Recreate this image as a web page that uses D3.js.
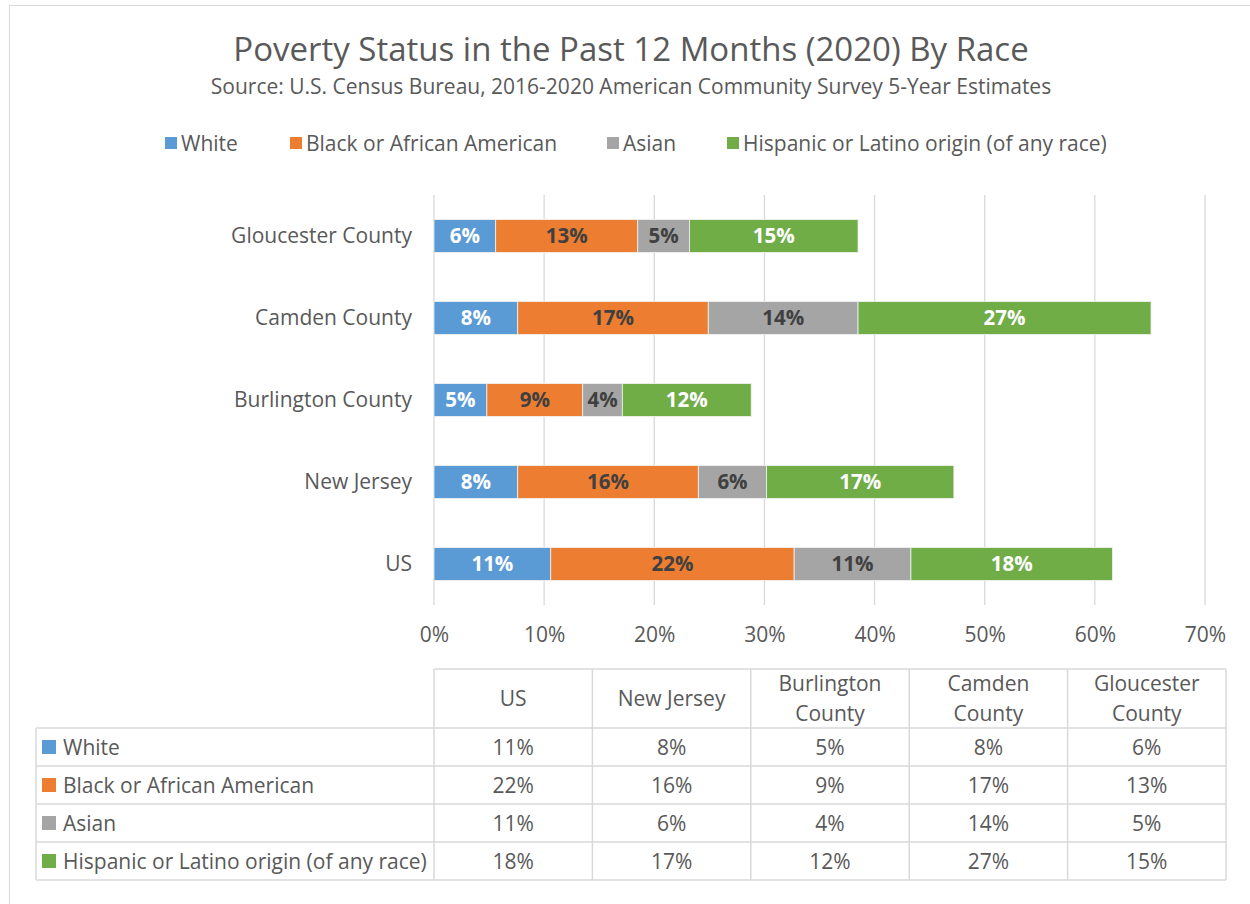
<!DOCTYPE html>
<html>
<head>
<meta charset="utf-8">
<script src="https://cdn.jsdelivr.net/npm/d3@7"></script>
<style>
  body { margin: 0; background: #fff; }
  svg { display: block; font-family: "Open Sans", Lato, sans-serif; }
</style>
</head>
<body>
<div id="chart"></div>
<script>
// Data (table order)
const categories = ['US', 'New Jersey', 'Burlington County', 'Camden County', 'Gloucester County'];
const headerLines = [['US'], ['New Jersey'], ['Burlington', 'County'], ['Camden', 'County'], ['Gloucester', 'County']];
const seriesNames = ['White', 'Black or African American', 'Asian', 'Hispanic or Latino origin (of any race)'];
const white    = [10.6, 7.6, 4.8, 7.6, 5.6];
const black    = [22.1, 16.4, 8.7, 17.3, 12.9];
const asian    = [10.6, 6.2, 3.6, 13.6, 4.7];
const hispanic = [18.3, 17.0, 11.7, 26.6, 15.3];
const xTicks = [0, 10, 20, 30, 40, 50, 60, 70];

const colors = ['#5B9BD5', '#ED7D31', '#A5A5A5', '#70AD47'];
const labelColors = ['#fff', '#404040', '#404040', '#fff'];
const font = '"Open Sans", Lato, sans-serif';

const W = 1250, H = 904;
const svg = d3.select('#chart').append('svg').attr('width', W).attr('height', H);

// chart border
svg.append('rect').attr('x', 9.5).attr('y', 5.5).attr('width', 1300).attr('height', 1000)
  .attr('fill', '#fff').attr('stroke', '#d9d9d9');

// Titles
svg.append('text').attr('x', 631).attr('y', 61).attr('text-anchor', 'middle')
  .attr('fill', '#595959').style('font-size', '33px')
  .text('Poverty Status in the Past 12 Months (2020) By Race');
svg.append('text').attr('x', 631).attr('y', 94).attr('text-anchor', 'middle')
  .attr('fill', '#595959').style('font-size', '21px')
  .text('Source: U.S. Census Bureau, 2016-2020 American Community Survey 5-Year Estimates');

// Legend
const legendX = [165, 290, 607, 727];
const legend = svg.append('g').selectAll('g').data(seriesNames).enter().append('g')
  .attr('transform', (d, i) => `translate(${legendX[i]},143)`);
legend.append('rect').attr('x', 0).attr('y', -6).attr('width', 12).attr('height', 12)
  .attr('fill', (d, i) => colors[i]);
legend.append('text').attr('x', 16).attr('y', 7.5).attr('fill', '#595959')
  .style('font-size', '21px').text(d => d);

// Scales
const x = d3.scaleLinear().domain([0, 70]).range([434, 1205]);
const y = d3.scaleBand().domain(categories.slice().reverse()).range([195, 605]).paddingInner(0.6).paddingOuter(0.3);

// gridlines
svg.append('g').selectAll('line').data(xTicks).enter().append('line')
  .attr('x1', d => x(d)).attr('x2', d => x(d))
  .attr('y1', 195).attr('y2', 605)
  .attr('stroke', '#d9d9d9').attr('stroke-width', 1.3);

// x axis tick labels
const xAxis = d3.axisBottom(x).tickValues(xTicks).tickFormat(d => d + '%').tickSize(0).tickPadding(0);
const xg = svg.append('g').attr('transform', 'translate(0,627)').call(xAxis);
xg.select('.domain').remove();
xg.selectAll('text').attr('fill', '#595959').style('font-size', '21px').style('font-family', font);

// y axis labels
const yAxis = d3.axisLeft(y).tickSize(0).tickPadding(22);
const yg = svg.append('g').attr('transform', 'translate(434,0)').call(yAxis);
yg.select('.domain').remove();
yg.selectAll('text').attr('fill', '#595959').style('font-size', '21px').style('font-family', font);

// stacked data
const rows = categories.map((c, i) => ({ cat: c, White: white[i], 'Black or African American': black[i], Asian: asian[i], 'Hispanic or Latino origin (of any race)': hispanic[i] }));
const stacked = d3.stack().keys(seriesNames)(rows);

const layers = svg.append('g').selectAll('g').data(stacked).enter().append('g')
  .attr('fill', (d, i) => colors[i]);
layers.selectAll('rect').data(d => d).enter().append('rect')
  .attr('x', d => x(d[0])).attr('width', d => x(d[1]) - x(d[0]))
  .attr('y', d => y(d.data.cat)).attr('height', y.bandwidth())
  .attr('stroke', '#f2f2f2').attr('stroke-width', 0.8);

layers.each(function (s, si) {
  d3.select(this).selectAll('text').data(s).enter().append('text')
    .attr('x', d => (x(d[0]) + x(d[1])) / 2)
    .attr('y', d => y(d.data.cat) + y.bandwidth() / 2)
    .attr('dy', '0.36em').attr('text-anchor', 'middle')
    .attr('fill', labelColors[si]).style('font-size', '20.5px').style('font-weight', 'bold')
    .text(d => Math.round(d[1] - d[0]) + '%');
});

// Data table
const tLeft = 36, tCol0 = 434, colW = 158.4, tTop = 669, headH = 59, rowH = 38;
const colX = d3.scaleBand().domain(categories).range([tCol0, tCol0 + colW * 5]);
const tableStroke = '#d9d9d9';
const tbl = svg.append('g');
const seriesVals = [white, black, asian, hispanic];

// horizontal lines
const hLines = [tTop, tTop + headH, tTop + headH + rowH, tTop + headH + rowH * 2, tTop + headH + rowH * 3, tTop + headH + rowH * 4];
tbl.selectAll('.hl').data(hLines).enter().append('line')
  .attr('x1', (d, i) => i === 0 ? tCol0 : tLeft).attr('x2', tCol0 + colW * 5)
  .attr('y1', d => d).attr('y2', d => d).attr('stroke', tableStroke).attr('stroke-width', 1.5);
// vertical lines
const vLines = d3.range(6).map(i => tCol0 + colW * i);
tbl.selectAll('.vl').data(vLines).enter().append('line')
  .attr('x1', d => d).attr('x2', d => d)
  .attr('y1', tTop).attr('y2', tTop + headH + rowH * 4).attr('stroke', tableStroke).attr('stroke-width', 1.5);
tbl.append('line').attr('x1', tLeft).attr('x2', tLeft).attr('y1', tTop + headH).attr('y2', tTop + headH + rowH * 4)
  .attr('stroke', tableStroke).attr('stroke-width', 1.5);

// header text
categories.forEach((c, i) => {
  const lines = headerLines[i];
  const cx = colX(c) + colX.bandwidth() / 2;
  const cy = tTop + headH / 2;
  lines.forEach((l, li) => {
    tbl.append('text').attr('x', cx).attr('y', cy + (li - (lines.length - 1) / 2) * 30)
      .attr('dy', '0.36em').attr('text-anchor', 'middle').attr('fill', '#595959')
      .style('font-size', '21px').text(l);
  });
});

// rows
seriesNames.forEach((s, si) => {
  const cy = tTop + headH + rowH * si + rowH / 2;
  tbl.append('rect').attr('x', 42).attr('y', cy - 7).attr('width', 14).attr('height', 14).attr('fill', colors[si]);
  tbl.append('text').attr('x', 63).attr('y', cy).attr('dy', '0.36em').attr('fill', '#595959')
    .style('font-size', '21px').text(s);
  categories.forEach((c, ci) => {
    tbl.append('text').attr('x', colX(c) + colX.bandwidth() / 2).attr('y', cy).attr('dy', '0.36em')
      .attr('text-anchor', 'middle').attr('fill', '#595959').style('font-size', '21px')
      .text(Math.round(seriesVals[si][ci]) + '%');
  });
});
</script>
</body>
</html>
